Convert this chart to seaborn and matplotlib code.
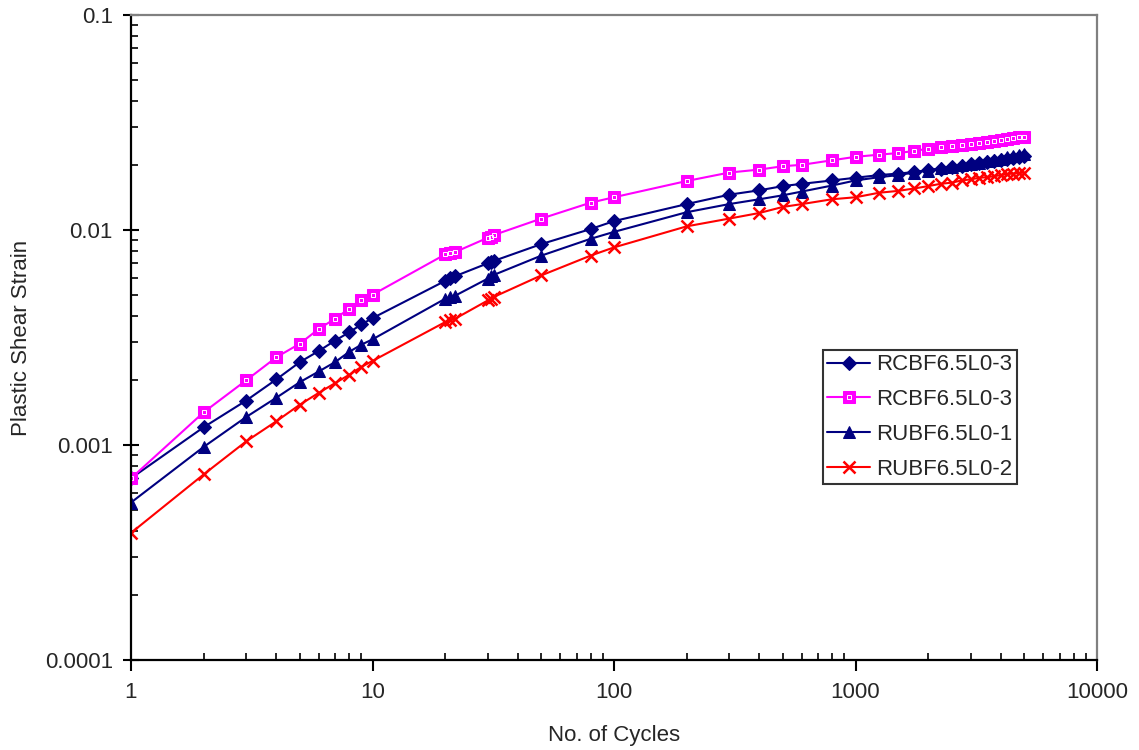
import matplotlib
matplotlib.use("Agg")
import matplotlib.pyplot as plt
import seaborn as sns
import numpy as np
import pandas as pd
from matplotlib.ticker import FixedLocator, FixedFormatter, LogLocator, NullFormatter

# ---------------- data ----------------
cycles = [1, 2, 3, 4, 5, 6, 7, 8, 9, 10, 20, 21, 22, 30, 31, 32, 50, 80, 100,
          200, 300, 400, 500, 600, 800, 1000, 1250, 1500, 1750, 2000, 2250,
          2500, 2750, 3000, 3250, 3500, 3750, 4000, 4250, 4500, 4750, 5000]

rcbf_a = [0.00070, 0.00121, 0.00161, 0.00202, 0.00243, 0.00274, 0.00306, 0.00334,
          0.00364, 0.00389, 0.0058, 0.0060, 0.0061, 0.0070, 0.0071, 0.0072,
          0.0086, 0.0101, 0.0110, 0.0132, 0.0146, 0.0153, 0.0160, 0.0164, 0.0170,
          0.0175, 0.0180, 0.0183, 0.0186, 0.0190, 0.0193, 0.0196, 0.0199, 0.0202,
          0.0205, 0.0207, 0.0209, 0.0211, 0.0214, 0.0216, 0.0218, 0.0220]

rcbf_b = [0.00070, 0.00142, 0.00200, 0.00256, 0.00296, 0.00347, 0.00387, 0.00430,
          0.00471, 0.00500, 0.0077, 0.0078, 0.0079, 0.0092, 0.0093, 0.0095,
          0.0113, 0.0134, 0.0142, 0.0169, 0.0185, 0.0191, 0.0198, 0.0201, 0.0211,
          0.0219, 0.0224, 0.0228, 0.0233, 0.0239, 0.0243, 0.0245, 0.0248, 0.0250,
          0.0253, 0.0256, 0.0259, 0.0262, 0.0265, 0.0267, 0.0270, 0.0272]

rubf_1 = [0.00054, 0.00098, 0.00135, 0.00166, 0.00196, 0.00220, 0.00243, 0.00271,
          0.00293, 0.00310, 0.00479, 0.00487, 0.00495, 0.00594, 0.0061, 0.0062,
          0.0076, 0.0091, 0.0098, 0.0121, 0.0132, 0.0139, 0.0145, 0.0151, 0.0161,
          0.0170, 0.0176, 0.0180, 0.0185, 0.0189, 0.0194, 0.0197, 0.0200, 0.0203,
          0.0206, 0.0209, 0.0212, 0.0215, 0.0218, 0.0220, 0.0223, 0.0225]

rubf_2 = [0.00039, 0.00073, 0.00104, 0.00129, 0.00154, 0.00175, 0.00194, 0.00212,
          0.00231, 0.00246, 0.00373, 0.00380, 0.00387, 0.00470, 0.00479, 0.00490,
          0.00615, 0.0076, 0.0083, 0.0104, 0.0113, 0.0120, 0.0128, 0.0132, 0.0139,
          0.0142, 0.0149, 0.0152, 0.0156, 0.0160, 0.0164, 0.0166, 0.0170, 0.0172,
          0.0175, 0.0176, 0.0178, 0.0180, 0.0182, 0.0183, 0.0184, 0.0185]

series_names = ["RCBF6.5L0-3", "RCBF6.5L0-3", "RUBF6.5L0-1", "RUBF6.5L0-2"]

x_ticks = [1, 10, 100, 1000, 10000]
x_tick_labels = ["1", "10", "100", "1000", "10000"]
y_ticks = [0.0001, 0.001, 0.01, 0.1]
y_tick_labels = ["0.0001", "0.001", "0.01", "0.1"]

x_label = "No. of Cycles"
y_label = "Plastic Shear Strain"

# ---------------- style ----------------
sns.set_style("white")
plt.rcParams["font.family"] = ["Liberation Sans", "DejaVu Sans"]

fig = plt.figure(figsize=(11.39, 7.5), dpi=100)
ax = fig.add_axes([131 / 1139, 1 - 660 / 750, (1097 - 131) / 1139, (660 - 15) / 750])

navy = "#000080"
magenta = "#FF00FF"
red = "#FF0000"

df = pd.DataFrame({"cycles": cycles, "a": rcbf_a, "b": rcbf_b, "c": rubf_1, "d": rubf_2})

sns.lineplot(data=df, x="cycles", y="a", ax=ax, color=navy, marker="D", markersize=7,
             markeredgecolor=navy, linewidth=1.5, estimator=None, sort=False,
             label=series_names[0])
sns.lineplot(data=df, x="cycles", y="b", ax=ax, color=magenta, marker="s", markersize=8,
             markeredgecolor=magenta, linewidth=1.5, estimator=None, sort=False,
             label=series_names[1])
inner, = ax.plot(df["cycles"], df["b"], linestyle="none", marker="s", markersize=3.4,
                 markerfacecolor="none", markeredgecolor="white", markeredgewidth=0.7)
sns.lineplot(data=df, x="cycles", y="c", ax=ax, color=navy, marker="^", markersize=8.5,
             markeredgecolor=navy, linewidth=1.5, estimator=None, sort=False,
             label=series_names[2])
sns.lineplot(data=df, x="cycles", y="d", ax=ax, color=red, marker="x", markersize=8.5,
             markeredgecolor=red, markeredgewidth=1.8, linewidth=1.5, estimator=None, sort=False,
             label=series_names[3])

ax.set_xscale("log")
ax.set_yscale("log")
ax.set_xlim(1, 10000)
ax.set_ylim(0.0001, 0.1)

ax.xaxis.set_major_locator(FixedLocator(x_ticks))
ax.xaxis.set_major_formatter(FixedFormatter(x_tick_labels))
ax.yaxis.set_major_locator(FixedLocator(y_ticks))
ax.yaxis.set_major_formatter(FixedFormatter(y_tick_labels))
ax.xaxis.set_minor_locator(LogLocator(base=10, subs=np.arange(2, 10), numticks=20))
ax.yaxis.set_minor_locator(LogLocator(base=10, subs=np.arange(2, 10), numticks=20))
ax.xaxis.set_minor_formatter(NullFormatter())
ax.yaxis.set_minor_formatter(NullFormatter())

ax.tick_params(axis="x", which="major", direction="out", length=8, width=1.5,
               color="black", labelsize=16, pad=8)
ax.tick_params(axis="x", which="minor", direction="in", length=5, width=1.2, color="black")
ax.tick_params(axis="y", which="major", direction="inout", length=12, width=1.5,
               color="black", labelsize=16, pad=7)
ax.tick_params(axis="y", which="minor", direction="in", length=5, width=1.2, color="black")
ax.tick_params(axis="both", which="both", bottom=True, left=True, top=False, right=False)

for side in ["left", "bottom"]:
    ax.spines[side].set_color("black")
    ax.spines[side].set_linewidth(1.6)
for side in ["top", "right"]:
    ax.spines[side].set_color("#808080")
    ax.spines[side].set_linewidth(1.6)
    ax.spines[side].set_visible(True)

ax.set_xlabel(x_label, fontsize=16, labelpad=16)
ax.set_ylabel(y_label, fontsize=16, labelpad=9)
ax.grid(False)
ax.set_facecolor("white")

handles, labels = ax.get_legend_handles_labels()
handles[1] = (handles[1], inner)
leg = ax.legend(handles, labels, loc="upper left", bbox_to_anchor=(0.7164, 0.4806),
                fontsize=16, frameon=True, fancybox=False, edgecolor="black",
                handlelength=1.9, handletextpad=0.3, labelspacing=0.62,
                borderpad=0.2, borderaxespad=0)
leg.get_frame().set_linewidth(1.5)

fig.savefig("out.png", dpi=100, facecolor="white")
